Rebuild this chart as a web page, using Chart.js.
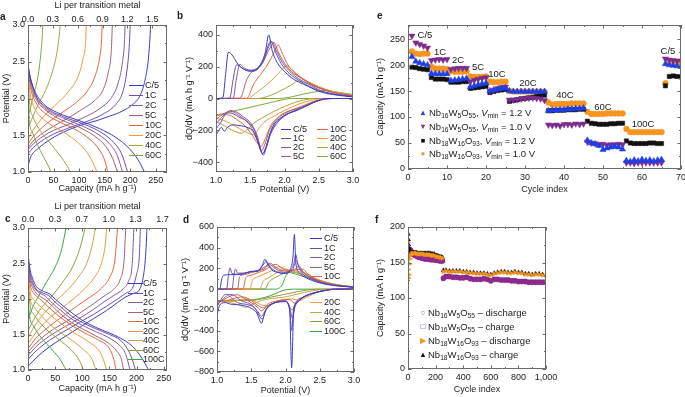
<!DOCTYPE html>
<html>
<head>
<meta charset="utf-8">
<script src="https://cdn.jsdelivr.net/npm/chart.js@4.4.1/dist/chart.umd.min.js"></script>
<style>
  html, body { margin: 0; padding: 0; background: #fff; }
  body { position: relative; width: 685px; height: 397px; overflow: hidden;
         font-family: "Liberation Sans", Arial, Helvetica, sans-serif; color: #222; }
  canvas { position: absolute; }
  .tx { position: absolute; font-size: 9px; line-height: 10px; white-space: nowrap; }
  .lt { position: absolute; font-size: 10px; font-weight: bold; line-height: 10px; }
  .key { position: absolute; height: 0; border-top: 1.4px solid; }
  .mk { position: absolute; font-size: 7.5px; line-height: 8px; transform: translate(-50%, -50%); }
  .ann { position: absolute; font-size: 9.5px; line-height: 10px; white-space: nowrap; transform: translate(-50%, -50%); }
  .lg { font-size: 9.5px; }
  sub { font-size: 70%; line-height: 0; vertical-align: -0.3em; }
</style>
</head>
<body>
<canvas id="chA"></canvas>
<canvas id="chB"></canvas>
<canvas id="chC"></canvas>
<canvas id="chD"></canvas>
<canvas id="chE"></canvas>
<canvas id="chF"></canvas>
<div class="lt" style="left:0px;top:12px">a</div>
<div class="lt" style="left:177px;top:11px">b</div>
<div class="lt" style="left:377px;top:11px">e</div>
<div class="lt" style="left:5px;top:214px">c</div>
<div class="lt" style="left:183px;top:215px">d</div>
<div class="lt" style="left:375px;top:215px">f</div>
<div id="overlay"></div>
<script>
// rates and colours
const ratesA = ['C/5', '1C', '2C', '5C', '10C', '20C', '40C', '60C'];
const colorsA = ['#3b3cc6', '#6a4fb2', '#8b5a98', '#a8606c', '#e0663c', '#f5963a', '#aaa23e', '#7ea83a'];
const ratesC = ['C/5', '1C', '2C', '5C', '10C', '20C', '40C', '60C', '100C'];
const colorsC = ['#3b3cc6', '#6a4fb2', '#8b5a98', '#a8606c', '#e0663c', '#f5963a', '#c9a442', '#8e9e3c', '#3fa63f'];

// mA h g-1 per Li per transition metal
const LI_A = 162;
const LI_C = 148.6;

// a: Nb16W5O55 galvanostatic curves [capacity, potential]
const aDischarge = [
  [[0,2.45],[4,2.3],[12,2.12],[30,1.93],[60,1.8],[100,1.7],[140,1.59],[172,1.47],[198,1.32],[216,1.16],[228,1.0]],
  [[0,2.45],[5,2.27],[15,2.05],[35,1.88],[70,1.75],[110,1.65],[145,1.53],[168,1.4],[183,1.25],[195,1.0]],
  [[0,2.45],[5,2.25],[15,2.03],[35,1.86],[70,1.73],[105,1.63],[138,1.51],[160,1.38],[175,1.22],[185,1.0]],
  [[0,2.45],[5,2.2],[15,2.0],[35,1.84],[65,1.71],[100,1.61],[130,1.49],[152,1.35],[166,1.18],[175,1.0]],
  [[0,2.43],[5,2.15],[15,1.95],[35,1.79],[65,1.67],[95,1.57],[120,1.45],[140,1.3],[151,1.14],[156,1.0]],
  [[0,2.4],[4,2.08],[12,1.88],[30,1.72],[55,1.6],[85,1.47],[108,1.33],[124,1.17],[135,1.0]],
  [[0,2.35],[3,1.95],[10,1.75],[25,1.55],[45,1.38],[63,1.22],[76,1.09],[83,1.0]],
  [[0,2.3],[2,1.75],[8,1.55],[18,1.38],[30,1.21],[40,1.08],[45,1.0]]
];
const aCharge = [
  [[0,1.08],[5,1.2],[20,1.32],[45,1.45],[75,1.56],[105,1.64],[135,1.7],[160,1.76],[185,1.83],[205,1.92],[220,2.05],[229,2.25],[235,2.5],[238,2.75],[240,3.0]],
  [[0,1.25],[10,1.33],[40,1.48],[80,1.6],[120,1.7],[150,1.8],[172,1.92],[186,2.1],[194,2.4],[198,2.7],[200,3.0]],
  [[0,1.3],[10,1.38],[40,1.53],[80,1.65],[115,1.76],[142,1.87],[162,2.0],[176,2.2],[185,2.5],[189,2.8],[190,3.0]],
  [[0,1.33],[10,1.42],[40,1.58],[75,1.72],[105,1.85],[130,1.97],[147,2.12],[157,2.35],[163,2.65],[165,3.0]],
  [[0,1.38],[10,1.48],[35,1.65],[65,1.8],[95,1.95],[116,2.1],[131,2.3],[140,2.55],[144,2.8],[145,3.0]],
  [[0,1.45],[10,1.57],[30,1.75],[55,1.92],[80,2.1],[98,2.3],[108,2.55],[113,2.8],[114,3.0]],
  [[0,1.6],[8,1.73],[20,1.92],[35,2.12],[48,2.37],[56,2.6],[61,2.85],[63,3.0]],
  [[0,1.75],[5,1.88],[12,2.07],[20,2.32],[25,2.6],[28,2.85],[29,3.0]]
];

// b: Nb16W5O55 dQ/dV [potential, dQ/dV]
const bCharge = [
  [[1.0,0],[1.1,5],[1.14,150],[1.18,290],[1.22,280],[1.27,250],[1.32,215],[1.4,185],[1.5,170],[1.58,175],[1.65,210],[1.72,290],[1.77,398],[1.82,300],[1.9,220],[2.0,170],[2.1,130],[2.2,105],[2.35,75],[2.5,45],[2.7,25],[3.0,10]],
  [[1.0,0],[1.2,2],[1.25,120],[1.3,210],[1.34,205],[1.4,185],[1.5,175],[1.6,185],[1.7,240],[1.76,330],[1.8,360],[1.86,300],[1.95,220],[2.05,165],[2.15,130],[2.3,90],[2.5,50],[2.7,28],[3.0,12]],
  [[1.0,0],[1.25,2],[1.3,130],[1.35,215],[1.4,195],[1.5,178],[1.6,190],[1.7,250],[1.78,335],[1.82,355],[1.88,300],[1.97,225],[2.1,160],[2.2,125],[2.35,90],[2.5,55],[2.7,30],[3.0,13]],
  [[1.0,0],[1.35,2],[1.45,120],[1.52,165],[1.6,185],[1.7,240],[1.78,310],[1.85,350],[1.9,300],[2.0,220],[2.1,170],[2.25,125],[2.4,85],[2.6,50],[2.8,28],[3.0,15]],
  [[1.0,0],[1.45,2],[1.55,90],[1.65,150],[1.75,210],[1.85,290],[1.91,335],[1.96,290],[2.05,210],[2.15,160],[2.3,115],[2.5,70],[2.7,40],[3.0,18]],
  [[1.0,0],[1.45,0],[1.6,40],[1.75,90],[1.85,130],[1.95,175],[2.03,205],[2.1,185],[2.2,145],[2.35,105],[2.5,75],[2.7,45],[3.0,20]],
  [[1.0,0],[1.6,0],[1.8,20],[1.95,50],[2.1,85],[2.2,110],[2.3,100],[2.45,75],[2.6,55],[2.8,35],[3.0,22]],
  [[1.0,0],[1.9,0],[2.1,10],[2.3,30],[2.5,45],[2.6,50],[2.7,45],[2.85,35],[3.0,25]]
];
const bDischarge = [
  [[1.0,-230],[1.04,-200],[1.08,-180],[1.12,-205],[1.17,-180],[1.25,-165],[1.35,-170],[1.45,-180],[1.55,-210],[1.62,-280],[1.68,-345],[1.72,-320],[1.78,-230],[1.85,-160],[1.95,-120],[2.05,-95],[2.15,-80],[2.25,-60],[2.35,-40],[2.45,-20],[2.55,-5],[2.65,0],[3.0,0]],
  [[1.0,-190],[1.07,-150],[1.12,-110],[1.18,-90],[1.25,-95],[1.35,-120],[1.45,-140],[1.55,-190],[1.62,-270],[1.69,-355],[1.74,-300],[1.8,-220],[1.9,-150],[2.0,-110],[2.1,-85],[2.2,-70],[2.3,-50],[2.45,-20],[2.6,-3],[2.7,0],[3.0,0]],
  [[1.0,-160],[1.08,-120],[1.15,-90],[1.22,-75],[1.3,-85],[1.4,-115],[1.5,-150],[1.6,-230],[1.68,-345],[1.73,-300],[1.8,-210],[1.9,-145],[2.0,-105],[2.1,-85],[2.2,-65],[2.35,-40],[2.5,-12],[2.65,0],[3.0,0]],
  [[1.0,-130],[1.1,-100],[1.2,-80],[1.28,-90],[1.38,-120],[1.5,-170],[1.6,-260],[1.66,-330],[1.71,-290],[1.78,-200],[1.88,-135],[2.0,-95],[2.1,-75],[2.25,-55],[2.4,-25],[2.55,-5],[2.7,0],[3.0,0]],
  [[1.0,-110],[1.1,-100],[1.2,-105],[1.3,-130],[1.42,-170],[1.53,-230],[1.62,-290],[1.66,-300],[1.72,-250],[1.8,-170],[1.9,-120],[2.0,-90],[2.15,-65],[2.3,-40],[2.45,-15],[2.6,-2],[3.0,0]],
  [[1.0,-125],[1.1,-135],[1.2,-155],[1.35,-190],[1.48,-220],[1.55,-228],[1.62,-190],[1.7,-150],[1.85,-110],[2.0,-75],[2.15,-45],[2.3,-22],[2.45,-6],[2.6,0],[3.0,0]],
  [[1.0,-145],[1.1,-165],[1.2,-190],[1.3,-210],[1.37,-218],[1.45,-195],[1.55,-155],[1.7,-115],[1.85,-80],[2.0,-50],[2.15,-25],[2.3,-8],[2.45,0],[3.0,0]],
  [[1.0,-105],[1.2,-85],[1.4,-65],[1.6,-45],[1.8,-25],[1.95,-10],[2.1,0],[3.0,0]]
];

// c: Nb18W16O93 galvanostatic curves [capacity, potential]
const cDischarge = [
  [[0,2.65],[3,2.45],[8,2.3],[15,2.18],[25,2.12],[40,2.07],[50,2.0],[65,1.9],[85,1.78],[100,1.7],[125,1.6],[150,1.52],[170,1.45],[190,1.35],[205,1.22],[215,1.1],[222,1.0]],
  [[0,2.6],[3,2.4],[8,2.25],[15,2.14],[25,2.09],[38,2.05],[48,1.97],[62,1.88],[80,1.76],[100,1.67],[125,1.58],[150,1.5],[170,1.42],[183,1.3],[192,1.15],[198,1.0]],
  [[0,2.55],[3,2.35],[10,2.18],[20,2.09],[32,2.04],[45,1.94],[60,1.84],[80,1.72],[100,1.63],[125,1.54],[150,1.45],[168,1.35],[180,1.22],[188,1.0]],
  [[0,2.5],[3,2.3],[10,2.14],[20,2.05],[32,1.99],[45,1.9],[60,1.79],[80,1.67],[100,1.58],[125,1.48],[148,1.38],[163,1.27],[172,1.15],[176,1.0]],
  [[0,2.45],[4,2.2],[12,2.07],[25,1.98],[40,1.87],[60,1.74],[80,1.63],[105,1.52],[130,1.42],[150,1.3],[158,1.15],[162,1.0]],
  [[0,2.4],[4,2.1],[12,1.98],[25,1.88],[45,1.75],[65,1.63],[90,1.5],[115,1.38],[135,1.22],[145,1.0]],
  [[0,2.3],[4,2.0],[12,1.88],[30,1.72],[50,1.58],[75,1.45],[100,1.3],[118,1.15],[125,1.0]],
  [[0,2.2],[4,1.9],[12,1.77],[30,1.6],[55,1.44],[80,1.28],[95,1.13],[102,1.0]],
  [[0,2.0],[3,1.75],[10,1.62],[25,1.45],[45,1.28],[60,1.14],[70,1.0]]
];
const cCharge = [
  [[0,1.05],[15,1.17],[40,1.33],[70,1.48],[95,1.6],[120,1.72],[145,1.84],[165,1.95],[180,2.03],[195,2.08],[205,2.13],[212,2.3],[216,2.55],[218,2.8],[219,3.0]],
  [[0,1.15],[15,1.27],[40,1.42],[70,1.56],[95,1.67],[120,1.78],[145,1.9],[165,2.0],[180,2.08],[192,2.15],[200,2.35],[205,2.6],[207,3.0]],
  [[0,1.2],[15,1.33],[40,1.48],[70,1.62],[95,1.73],[120,1.85],[140,1.96],[160,2.06],[175,2.14],[185,2.25],[192,2.5],[195,3.0]],
  [[0,1.25],[15,1.38],[40,1.54],[70,1.68],[95,1.8],[120,1.93],[140,2.04],[158,2.14],[170,2.28],[177,2.55],[180,3.0]],
  [[0,1.3],[15,1.45],[40,1.62],[65,1.76],[90,1.9],[115,2.03],[135,2.15],[150,2.3],[160,2.55],[165,3.0]],
  [[0,1.37],[15,1.53],[35,1.7],[60,1.86],[85,2.01],[105,2.15],[122,2.3],[135,2.5],[142,2.75],[145,3.0]],
  [[0,1.45],[12,1.62],[30,1.8],[50,1.96],[72,2.12],[92,2.3],[108,2.5],[118,2.75],[124,3.0]],
  [[0,1.55],[10,1.7],[25,1.88],[45,2.05],[65,2.25],[82,2.45],[95,2.7],[102,2.9],[105,3.0]],
  [[0,1.7],[8,1.87],[20,2.05],[35,2.25],[50,2.45],[62,2.7],[70,3.0]]
];

// d: Nb18W16O93 dQ/dV [potential, dQ/dV]
const dCharge = [
  [[1.0,0],[1.04,2],[1.07,100],[1.1,135],[1.2,140],[1.3,140],[1.4,150],[1.5,172],[1.6,175],[1.66,230],[1.7,288],[1.74,240],[1.8,185],[1.9,160],[2.0,150],[2.07,190],[2.11,320],[2.13,530],[2.15,260],[2.2,160],[2.3,110],[2.45,70],[2.6,45],[2.8,28],[3.0,18]],
  [[1.0,0],[1.14,2],[1.17,150],[1.19,205],[1.22,150],[1.3,145],[1.4,155],[1.5,170],[1.6,180],[1.67,230],[1.72,270],[1.77,220],[1.85,175],[1.95,155],[2.05,165],[2.12,240],[2.15,335],[2.18,240],[2.25,150],[2.4,90],[2.6,50],[2.8,30],[3.0,20]],
  [[1.0,0],[1.22,2],[1.25,150],[1.27,195],[1.3,155],[1.4,155],[1.5,168],[1.6,180],[1.7,215],[1.76,245],[1.8,225],[1.9,180],[2.0,160],[2.1,180],[2.16,275],[2.2,210],[2.3,140],[2.45,85],[2.6,55],[2.8,32],[3.0,20]],
  [[1.0,0],[1.3,2],[1.33,120],[1.4,140],[1.5,160],[1.6,175],[1.7,200],[1.78,250],[1.83,225],[1.95,180],[2.05,170],[2.15,200],[2.2,225],[2.25,175],[2.35,120],[2.5,75],[2.7,42],[3.0,20]],
  [[1.0,0],[1.38,2],[1.42,110],[1.5,135],[1.6,160],[1.7,185],[1.8,230],[1.86,240],[1.95,200],[2.05,180],[2.15,185],[2.25,195],[2.32,150],[2.45,95],[2.6,60],[2.8,35],[3.0,20]],
  [[1.0,0],[1.48,2],[1.52,90],[1.6,120],[1.7,150],[1.8,180],[1.88,215],[1.95,210],[2.05,185],[2.15,175],[2.3,150],[2.45,100],[2.6,65],[2.8,38],[3.0,22]],
  [[1.0,0],[1.62,2],[1.68,80],[1.75,110],[1.85,150],[1.95,185],[2.05,180],[2.15,165],[2.3,130],[2.45,95],[2.6,65],[2.8,38],[3.0,22]],
  [[1.0,0],[1.7,2],[1.76,70],[1.85,110],[1.95,145],[2.05,165],[2.15,160],[2.3,130],[2.45,95],[2.6,65],[2.8,38],[3.0,22]],
  [[1.0,0],[1.85,0],[1.95,40],[2.0,120],[2.05,160],[2.15,145],[2.3,115],[2.5,75],[2.7,45],[3.0,22]]
];
const dDischarge = [
  [[1.0,-260],[1.03,-170],[1.07,-135],[1.12,-130],[1.2,-145],[1.3,-150],[1.4,-160],[1.5,-185],[1.58,-230],[1.65,-330],[1.69,-240],[1.75,-170],[1.85,-130],[2.0,-120],[2.06,-200],[2.09,-760],[2.12,-220],[2.18,-120],[2.25,-80],[2.4,-40],[2.6,-10],[2.7,0],[3.0,0]],
  [[1.0,-170],[1.05,-110],[1.1,-60],[1.15,-50],[1.2,-80],[1.3,-130],[1.45,-150],[1.55,-180],[1.62,-260],[1.66,-290],[1.72,-190],[1.85,-130],[2.0,-120],[2.06,-180],[2.09,-400],[2.12,-180],[2.25,-80],[2.4,-40],[2.6,-10],[2.75,0],[3.0,0]],
  [[1.0,-150],[1.1,-90],[1.18,-50],[1.25,-60],[1.35,-110],[1.5,-150],[1.6,-220],[1.65,-260],[1.72,-190],[1.85,-130],[2.0,-115],[2.07,-200],[2.1,-280],[2.14,-170],[2.25,-85],[2.4,-40],[2.6,-10],[2.75,0],[3.0,0]],
  [[1.0,-130],[1.1,-100],[1.22,-60],[1.3,-55],[1.4,-90],[1.5,-130],[1.6,-180],[1.65,-210],[1.72,-170],[1.85,-130],[2.0,-110],[2.1,-200],[2.14,-150],[2.25,-80],[2.4,-40],[2.6,-10],[2.75,0],[3.0,0]],
  [[1.0,-120],[1.15,-110],[1.3,-80],[1.38,-75],[1.5,-110],[1.6,-160],[1.68,-180],[1.75,-140],[1.9,-110],[2.05,-100],[2.15,-140],[2.2,-110],[2.3,-65],[2.45,-30],[2.6,-8],[2.75,0],[3.0,0]],
  [[1.0,-120],[1.2,-120],[1.35,-100],[1.45,-95],[1.55,-120],[1.7,-160],[1.78,-150],[1.9,-110],[2.1,-95],[2.2,-110],[2.3,-80],[2.45,-35],[2.6,-10],[2.75,0],[3.0,0]],
  [[1.0,-115],[1.2,-130],[1.35,-160],[1.42,-175],[1.5,-150],[1.65,-110],[1.8,-90],[1.95,-80],[2.1,-60],[2.25,-35],[2.4,-15],[2.55,-3],[2.7,0],[3.0,0]],
  [[1.0,-110],[1.2,-110],[1.35,-110],[1.5,-110],[1.65,-95],[1.8,-75],[1.95,-55],[2.1,-35],[2.25,-15],[2.4,-3],[2.55,0],[3.0,0]],
  [[1.0,-115],[1.2,-110],[1.4,-105],[1.55,-100],[1.7,-80],[1.85,-45],[1.95,-15],[2.05,-2],[2.15,0],[3.0,0]]
];

// e: rate capability, capacity (mA h g-1) per cycle
const eCycle = [1,2,3,4,5,6,7,8,9,10,11,12,13,14,15,16,17,18,19,20,21,22,23,24,25,26,27,28,29,30,31,32,33,34,35,
  36,37,38,39,40,41,42,43,44,45,46,47,48,49,50,51,52,53,54,55,56,57,58,59,60,61,62,63,64,65,66,67,68,69,70];
const eNb16V12 = [216,207,204,202,200, 184,183,183,183,183, 170,171,172,173,174, 158,160,162,164,165, 150,152,153,155,156,
  150,149,149,149,149,149,149,149,149,149, 112,113,113,114,114,115,115,116,116,117, 55,50,48,45,37,40,42,43,42,38,
  16,14,17,15,18,16,17,15,17,18, 202,200,199,198,197];
const eNb16V10 = [256,243,240,237,233, 209,210,211,210,211, 192,193,194,194,194, 168,171,173,175,176, 150,152,155,157,158,
  133,133,134,135,136,137,137,136,135,132, 85,84,85,83,86,86,85,87,86,87, 52,50,49,47,48,46,47,47,48,47,
  12,12,11,12,12,12,12,12,12,12, 212,210,209,208,208];
const eNb18V12 = [196,195,193,192,191, 176,173,173,173,172, 167,167,167,168,168, 155,156,157,158,159, 147,149,151,152,153,
  130,132,133,135,136,137,138,140,141,142, 112,112,113,113,113,114,114,114,115,115, 92,88,87,86,86,86,87,87,88,88,
  54,50,49,49,49,49,50,50,49,49, 160,178,179,178,177];
const eNb18V10 = [226,222,221,222,222, 197,193,193,193,192, 188,187,187,187,188, 178,177,177,177,178, 168,167,167,168,168,
  150,149,149,149,149,149,149,149,149,149, 128,124,125,125,125,125,126,126,126,126, 110,106,106,106,106,107,107,107,107,107,
  77,71,71,71,71,71,71,71,71,71, 165,206,205,204,204];
const eRateLabels = ['C/5', '1C', '2C', '5C', '10C', '20C', '40C', '60C', '100C', 'C/5'];

// f: long-term cycling, capacity (mA h g-1)
const fCycle = [1,3,5,8,12,16,20,25,30,40,50,60,70,80,90,100,110,120,130,140,150,160,170,180,190,200,210,220,230,240,250,
  256,275,300,325,350,375,400,425,450,475,500,525,550,575,600,625,650,675,700,725,750,775,800,825,850,875,900,925,950,975,1000];
const fNb16Dis = [160,165,166,167,168,168,167,165,163,161,160,159,158,157,157,156,156,155,155,155,155,154,154,154,154,153,153,153,152,152,152,
  128,130,130,129,129,128,128,129,127,126,126,126,127,126,124,126,126,125,125,125,124,124,123,123,123,122,122,122,122,122,122];
const fNb16Chg = [163,166,167,168,168,168,167,165,164,162,161,160,159,158,158,157,157,156,156,156,155,155,155,155,154,154,154,154,153,153,153,
  127,131,131,130,130,129,129,130,128,127,127,127,128,127,125,127,127,126,126,126,125,125,124,124,124,123,123,123,123,123,123];
const fNb18Dis = [178,140,128,133,148,155,160,162,163,163,163,163,162,162,162,162,162,161,161,161,161,161,160,160,160,159,158,158,157,157,156,
  137,138,137,137,137,137,136,136,135,135,134,134,134,133,132,134,135,136,136,135,135,136,135,135,133,133,132,133,133,132,131];
const fNb18Chg = [190,182,175,170,167,165,165,164,164,164,164,164,163,163,163,163,163,163,163,163,163,163,162,162,162,160,160,159,158,158,157,
  139,139,138,138,138,138,137,137,136,136,135,135,135,134,133,135,136,137,137,136,136,137,136,136,134,134,133,134,134,133,132];

Chart.defaults.font.family = '"Liberation Sans", Arial, Helvetica, sans-serif';
Chart.defaults.font.size = 9;
Chart.defaults.color = '#222';

const fmtNum = v => v.toLocaleString('en-US').replace('-', '\u2212');
const fmt1 = v => v.toFixed(1);

// frame with inward major/minor ticks on every side
const inTicks = {
  id: 'inTicks',
  afterDatasetsDraw(chart) {
    const {ctx, chartArea: a, scales} = chart;
    ctx.save();
    ctx.strokeStyle = '#6b6b6b';
    ctx.lineWidth = 1;
    ctx.strokeRect(a.left + 0.5, a.top + 0.5, a.right - a.left - 1, a.bottom - a.top - 1);
    ctx.beginPath();
    Object.values(scales).forEach(s => {
      if (s.ticks.length < 2) return;
      const step = s.ticks[1].value - s.ticks[0].value;
      const marks = s.ticks.map(t => [t.value, 3.5]);
      for (let v = s.ticks[0].value - step / 2; v <= s.max; v += step) {
        if (v >= s.min) marks.push([v, 2]);
      }
      marks.forEach(([v, len]) => {
        const p = Math.round(s.getPixelForValue(v)) + 0.5;
        if (s.isHorizontal()) {
          if (s.position === 'top' || !scales.x2) { ctx.moveTo(p, a.top); ctx.lineTo(p, a.top + len); }
          if (s.position === 'bottom') { ctx.moveTo(p, a.bottom); ctx.lineTo(p, a.bottom - len); }
        } else {
          ctx.moveTo(a.left, p); ctx.lineTo(a.left + len, p);
          ctx.moveTo(a.right, p); ctx.lineTo(a.right - len, p);
        }
      });
    });
    ctx.stroke();
    ctx.restore();
  }
};

function axis(pos, min, max, step, o = {}) {
  return {
    type: 'linear', position: pos, min, max,
    grid: {display: false, drawTicks: false, tickLength: 0},
    border: {display: false},
    ticks: {stepSize: step, includeBounds: false, padding: o.pad ?? 3, autoSkip: false,
            maxRotation: 0, minRotation: 0, callback: o.fmt || fmtNum},
    title: {display: !!o.title, text: o.title || '', padding: {top: o.tpad ?? 0, bottom: 0}}
  };
}

// plot = chart area in page pixels, pad = room around it for ticks and titles
function makeChart(id, plot, pad, scales, datasets) {
  const cv = document.getElementById(id);
  cv.width = plot.r - plot.l + pad.l + pad.r;
  cv.height = plot.b - plot.t + pad.t + pad.b;
  cv.style.left = (plot.l - pad.l) + 'px';
  cv.style.top = (plot.t - pad.t) + 'px';
  scales.x.afterFit = s => { s.height = pad.b; };
  scales.y.afterFit = s => { s.width = pad.l; };
  if (scales.x2) scales.x2.afterFit = s => { s.height = pad.t; };
  return new Chart(cv, {
    type: 'scatter',
    data: {datasets},
    options: {
      responsive: false, animation: false, events: [],
      layout: {padding: {left: 0, right: pad.r, top: scales.x2 ? 0 : pad.t, bottom: 0}},
      plugins: {legend: {display: false}, tooltip: {enabled: false}},
      scales
    },
    plugins: [inTicks]
  });
}

const curve = (pts, color) => ({
  data: pts.map(([x, y]) => ({x, y})),
  showLine: true, borderColor: color, borderWidth: 1, pointRadius: 0,
  cubicInterpolationMode: 'monotone', fill: false
});
const curves = (groups, colors) => groups.flatMap(g => g.map((pts, i) => curve(pts, colors[i])));

const CAP = 'Capacity (mA h g\u207B\u00B9)';

makeChart('chA', {l: 28, t: 25, r: 167, b: 172}, {l: 28, t: 25, r: 10, b: 22}, {
  x: axis('bottom', 0, 272, 50, {title: CAP}),
  x2: axis('top', 0, 272 / LI_A, 0.3, {fmt: fmt1, title: 'Li per transition metal', pad: 0}),
  y: axis('left', 1, 3, 0.5, {fmt: fmt1, title: 'Potential (V)', tpad: 1})
}, curves([aDischarge, aCharge], colorsA));

makeChart('chB', {l: 216, t: 25, r: 353, b: 172}, {l: 33, t: 25, r: 10, b: 23}, {
  x: axis('bottom', 1, 3, 0.5, {fmt: fmt1, title: 'Potential (V)'}),
  y: axis('left', -460, 460, 200, {title: 'dQ/dV (mA h g\u207B\u00B9 V\u207B\u00B9)', tpad: 1})
}, curves([bCharge, bDischarge], colorsA));

makeChart('chC', {l: 28, t: 228, r: 167, b: 370}, {l: 28, t: 27, r: 10, b: 24}, {
  x: axis('bottom', 0, 256, 50, {title: CAP}),
  x2: axis('top', 0, 256 / LI_C, 1 / 3, {fmt: fmt1, title: 'Li per transition metal', pad: 3}),
  y: axis('left', 1, 3, 0.5, {fmt: fmt1, title: 'Potential (V)', tpad: 1})
}, curves([cDischarge, cCharge], colorsC));

makeChart('chD', {l: 217, t: 227, r: 354, b: 372}, {l: 37, t: 20, r: 10, b: 24}, {
  x: axis('bottom', 1, 3, 0.5, {fmt: fmt1, title: 'Potential (V)'}),
  y: axis('left', -800, 600, 200, {title: 'dQ/dV (mA h g\u207B\u00B9 V\u207B\u00B9)'})
}, curves([dCharge, dDischarge], colorsC));

const pts = (xs, ys) => xs.map((x, i) => ({x, y: ys[i]}));
const marks = (ys, color, style, rot, r, order) => ({
  data: pts(eCycle, ys), pointStyle: style, rotation: rot, pointRadius: r,
  backgroundColor: color, borderColor: color, borderWidth: 0.5, order
});

makeChart('chE', {l: 408, t: 25, r: 681, b: 169}, {l: 33, t: 20, r: 10, b: 26}, {
  x: axis('bottom', 0, 70, 10, {title: 'Cycle index'}),
  y: axis('left', 0, 277, 50, {title: CAP})
}, [
  marks(eNb16V12, '#1f3fe6', 'triangle', 0, 3.6, 0),
  marks(eNb16V10, '#7b2d8e', 'triangle', 180, 3.6, 1),
  marks(eNb18V12, '#111111', 'rect', 0, 3, 2),
  marks(eNb18V10, '#f7941d', 'circle', 0, 2.9, 3)
]);

const fmarks = (ys, color, style, rot, order) => ({
  data: pts(fCycle, ys), pointStyle: style, rotation: rot, pointRadius: 2.5,
  backgroundColor: color, borderColor: color, borderWidth: 0.5, order
});

makeChart('chF', {l: 408, t: 227, r: 546, b: 369}, {l: 33, t: 20, r: 20, b: 26}, {
  x: axis('bottom', 0, 1000, 200, {title: 'Cycle index'}),
  y: axis('left', 0, 200, 50, {title: CAP})
}, [
  fmarks(fNb16Chg, '#2b2b9b', 'rect', 0, 3),
  fmarks(fNb16Dis, '#8e2a8e', 'circle', 0, 2),
  fmarks(fNb18Chg, '#111111', 'triangle', 0, 1),
  fmarks(fNb18Dis, '#f7941d', 'triangle', 90, 0)
]);

// legends and annotations
const overlay = document.getElementById('overlay');
function put(cls, style, html) {
  const d = document.createElement('div');
  d.className = cls;
  Object.assign(d.style, style);
  if (html) d.innerHTML = html;
  overlay.appendChild(d);
}
function lineKey(names, colors, lineX, lineW, textX, y0, dy) {
  names.forEach((n, i) => {
    const y = y0 + i * dy;
    put('key', {left: lineX + 'px', top: y + 'px', width: lineW + 'px', borderColor: colors[i]});
    put('tx', {left: textX + 'px', top: (y - 5) + 'px'}, n);
  });
}
lineKey(ratesA, colorsA, 129, 14, 145, 85, 10);
lineKey(ratesA.slice(0, 4), colorsA.slice(0, 4), 281, 10, 293, 129, 9);
lineKey(ratesA.slice(4), colorsA.slice(4), 317, 11, 330, 129, 9);
lineKey(ratesC, colorsC, 128, 15, 143, 283, 9.55);
lineKey(ratesC.slice(0, 5), colorsC.slice(0, 5), 310, 12, 324, 238, 9.6);
lineKey(ratesC.slice(5), colorsC.slice(5), 310, 12, 324, 302, 9.6);

const NB16 = 'Nb<sub>16</sub>W<sub>5</sub>O<sub>55</sub>';
const NB18 = 'Nb<sub>18</sub>W<sub>16</sub>O<sub>93</sub>';
const VMIN = '<i>V</i><sub>min</sub>';
const eKey = [
  ['\u25B2', '#1f3fe6', NB16 + ', ' + VMIN + ' = 1.2 V'],
  ['\u25BC', '#7b2d8e', NB16 + ', ' + VMIN + ' = 1.0 V'],
  ['\u25A0', '#111111', NB18 + ', ' + VMIN + ' = 1.2 V'],
  ['\u25CF', '#f7941d', NB18 + ', ' + VMIN + ' = 1.0 V']
];
eKey.forEach(([m, c, t], i) => {
  const y = 113.3 + i * 13.7;
  put('mk', {left: '423px', top: y + 'px', color: c}, m);
  put('tx lg', {left: '429px', top: (y - 5) + 'px'}, t);
});
const fKey = [
  ['\u25CB', '#8e2a8e', NB16 + ' \u2013 discharge'],
  ['\u25A1', '#2b2b9b', NB16 + ' \u2013 charge'],
  ['\u25B6', '#f7941d', NB18 + ' \u2013 discharge'],
  ['\u25B2', '#111111', NB18 + ' \u2013 charge']
];
fKey.forEach(([m, c, t], i) => {
  const y = 313.3 + i * 14;
  put('mk', {left: '423px', top: y + 'px', color: c}, m);
  put('tx lg', {left: '428px', top: (y - 5) + 'px'}, t);
});
const eAnnPos = [[425, 35], [440, 52], [458, 60], [478, 67], [497, 74], [528, 83], [565, 95], [603, 107], [643, 124], [668, 51]];
eRateLabels.forEach((t, i) => put('ann', {left: eAnnPos[i][0] + 'px', top: eAnnPos[i][1] + 'px'}, t));
</script>
</body>
</html>
